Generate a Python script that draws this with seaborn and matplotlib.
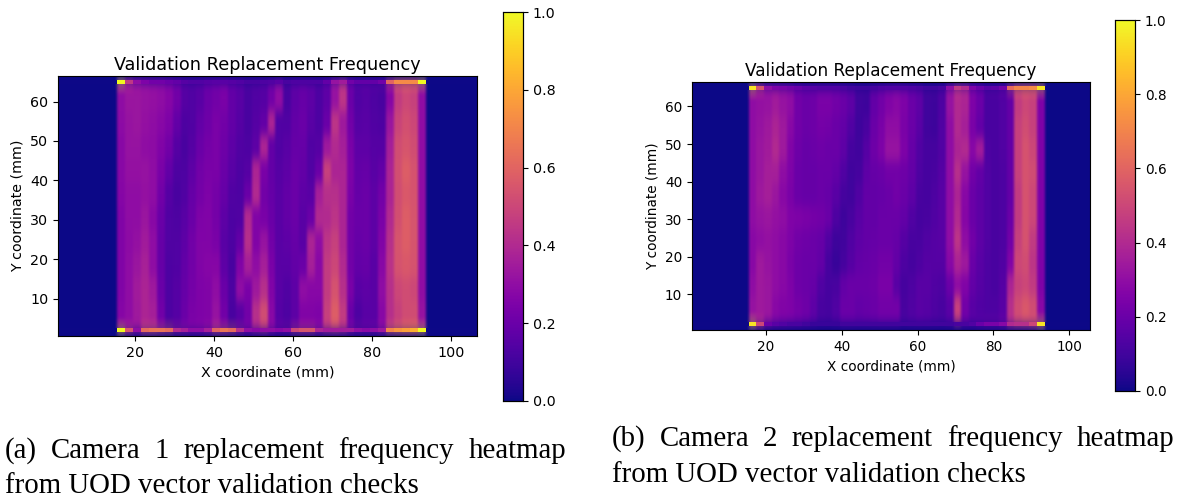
import numpy as np
import matplotlib
matplotlib.use("Agg")
import matplotlib.pyplot as plt
import seaborn as sns

# values, 39 columns of 2 mm across the plate (x = 15.5 .. 93.5)
# rows go from the top of the plate down
CAM1_TOP_EDGE = [1.0, .45, .30, .25, .22, .22, .20, .18, .15, .14, .14, .15, .16, .16, .15, .14, .12, .12, .13, .14, .16, .12, .13, .13, .13, .13, .18, .32, .35, .22, .18, .18, .18, .22, .60, .72, .72, .72, 1.0]
CAM1_BODY = [
    [.30, .33, .33, .32, .31, .30, .27, .22, .15, .14, .16, .20, .22, .24, .18, .16, .12, .14, .15, .22, .30, .12, .17, .19, .17, .13, .17, .32, .44, .20, .14, .15, .13, .12, .27, .46, .50, .48, .30],
    [.29, .32, .33, .31, .30, .28, .25, .18, .13, .14, .18, .21, .24, .22, .18, .15, .12, .15, .18, .38, .14, .14, .18, .20, .16, .13, .20, .44, .34, .22, .15, .16, .14, .13, .33, .49, .53, .50, .30],
    [.28, .32, .32, .30, .29, .26, .22, .15, .12, .15, .20, .23, .24, .21, .17, .14, .13, .17, .38, .18, .14, .16, .19, .19, .14, .15, .34, .40, .36, .24, .17, .17, .15, .15, .36, .52, .55, .52, .30],
    [.28, .31, .31, .32, .30, .24, .18, .13, .13, .17, .22, .24, .24, .20, .16, .13, .15, .38, .24, .18, .15, .17, .20, .18, .14, .20, .48, .38, .38, .25, .18, .19, .16, .18, .38, .53, .58, .54, .30],
    [.27, .30, .30, .31, .30, .22, .15, .12, .14, .19, .23, .25, .23, .19, .14, .13, .20, .40, .22, .19, .16, .18, .20, .17, .16, .36, .42, .42, .38, .24, .19, .20, .17, .22, .38, .52, .56, .54, .30],
    [.26, .30, .30, .33, .28, .20, .14, .13, .16, .20, .25, .26, .23, .17, .13, .14, .40, .26, .24, .20, .16, .18, .20, .16, .20, .40, .40, .44, .38, .22, .20, .20, .17, .24, .40, .53, .58, .55, .30],
    [.26, .29, .31, .35, .30, .19, .14, .14, .17, .22, .26, .26, .24, .16, .13, .18, .42, .26, .32, .22, .16, .17, .19, .16, .38, .30, .44, .48, .38, .22, .19, .20, .17, .26, .42, .55, .58, .55, .30],
    [.26, .30, .33, .37, .30, .19, .13, .14, .18, .22, .26, .27, .27, .17, .12, .26, .36, .30, .36, .24, .16, .16, .18, .20, .36, .28, .46, .50, .40, .22, .18, .19, .16, .28, .43, .54, .56, .54, .30],
    [.26, .30, .35, .38, .34, .20, .13, .15, .19, .23, .25, .26, .30, .20, .13, .30, .24, .34, .42, .26, .16, .14, .17, .30, .28, .28, .46, .54, .42, .24, .16, .17, .16, .30, .42, .50, .52, .50, .30],
    [.27, .30, .34, .38, .36, .22, .13, .15, .20, .24, .25, .26, .32, .22, .12, .16, .22, .42, .52, .28, .15, .13, .17, .26, .26, .25, .48, .58, .46, .20, .13, .16, .16, .28, .42, .48, .52, .52, .32],
]
CAM1_BOTTOM_EDGE = [1.0, .55, .30, .62, .65, .65, .62, .40, .36, .30, .30, .36, .60, .66, .62, .42, .30, .28, .30, .30, .28, .30, .50, .55, .55, .38, .35, .35, .35, .35, .30, .28, .30, .34, .70, .75, .78, .82, 1.0]

CAM2_TOP_EDGE = [.95, .55, .30, .25, .24, .22, .20, .17, .15, .14, .14, .14, .12, .10, .09, .09, .11, .13, .14, .14, .14, .13, .12, .10, .10, .12, .30, .45, .40, .25, .20, .16, .17, .22, .62, .70, .70, .72, .95]
CAM2_BODY = [
    [.30, .31, .32, .35, .32, .30, .22, .20, .21, .24, .24, .22, .20, .17, .10, .09, .18, .22, .26, .28, .25, .20, .17, .10, .09, .13, .32, .40, .38, .25, .20, .12, .12, .14, .18, .46, .50, .48, .25],
    [.30, .32, .34, .38, .34, .28, .22, .20, .21, .23, .22, .20, .18, .14, .09, .12, .20, .24, .30, .30, .24, .20, .16, .10, .09, .14, .30, .40, .36, .24, .18, .12, .12, .14, .18, .48, .52, .48, .25],
    [.30, .33, .35, .40, .34, .26, .21, .19, .20, .21, .20, .20, .17, .11, .10, .15, .21, .25, .32, .32, .25, .19, .14, .11, .11, .14, .30, .38, .40, .28, .35, .13, .12, .14, .18, .48, .54, .50, .25],
    [.30, .33, .36, .36, .30, .25, .20, .19, .19, .20, .20, .18, .14, .10, .11, .17, .19, .20, .22, .22, .21, .18, .13, .11, .12, .15, .30, .42, .32, .22, .18, .14, .12, .13, .18, .48, .54, .52, .25],
    [.30, .34, .36, .33, .28, .24, .20, .19, .19, .20, .19, .16, .11, .10, .14, .18, .18, .19, .20, .22, .20, .17, .12, .11, .13, .16, .30, .38, .28, .20, .17, .14, .12, .13, .18, .46, .54, .50, .25],
    [.30, .32, .33, .31, .30, .26, .25, .24, .23, .22, .20, .13, .09, .12, .16, .18, .18, .20, .20, .20, .18, .14, .11, .12, .14, .16, .30, .40, .27, .20, .17, .14, .12, .13, .20, .46, .54, .50, .25],
    [.28, .30, .31, .30, .28, .25, .22, .21, .20, .19, .14, .09, .10, .14, .17, .18, .19, .20, .20, .19, .15, .12, .12, .14, .15, .16, .30, .44, .30, .22, .17, .14, .12, .13, .22, .48, .54, .46, .25],
    [.28, .34, .32, .30, .28, .24, .21, .20, .20, .18, .11, .08, .11, .15, .18, .19, .20, .22, .22, .18, .13, .11, .13, .15, .15, .15, .28, .38, .34, .20, .16, .13, .12, .14, .26, .50, .52, .44, .25],
    [.30, .34, .33, .30, .28, .25, .21, .20, .19, .14, .11, .12, .18, .20, .20, .20, .21, .24, .24, .16, .11, .13, .16, .16, .14, .13, .20, .30, .26, .18, .15, .13, .12, .15, .38, .48, .50, .46, .25],
    [.32, .34, .33, .28, .26, .25, .23, .21, .17, .12, .11, .14, .20, .20, .18, .19, .20, .22, .22, .22, .12, .14, .16, .15, .13, .12, .16, .48, .22, .16, .14, .13, .13, .16, .42, .52, .56, .52, .28],
]
CAM2_BOTTOM_EDGE = [.95, .50, .20, .16, .14, .12, .12, .10, .08, .08, .08, .08, .10, .10, .10, .10, .10, .10, .10, .10, .10, .10, .10, .10, .10, .10, .10, .12, .12, .14, .20, .24, .24, .28, .40, .42, .42, .50, .95]

X_TICKS = [20, 40, 60, 80, 100]
Y_TICKS = [10, 20, 30, 40, 50, 60]
CBAR_TICKS = [0.0, 0.2, 0.4, 0.6, 0.8, 1.0]
ROW_MM = [1, 1, 7, 6, 6, 6, 6, 6, 6, 6, 6, 7, 1, 1]

TITLE = "Validation Replacement Frequency"
CAPTION_A = ["(a) Camera 1 replacement frequency heatmap", "from UOD vector validation checks"]
CAPTION_B = ["(b) Camera 2 replacement frequency heatmap", "from UOD vector validation checks"]

CAPTION_SIZE = 20.8

W, H = 1183, 500
sns.set_style("white")
plt.rcParams.update({
    "font.family": "DejaVu Sans",
    "text.color": "black",
    "axes.labelcolor": "black",
    "xtick.color": "black",
    "ytick.color": "black",
})
fig = plt.figure(figsize=(W / 100, H / 100), dpi=100)


def px_axes(x0, y0, x1, y1):
    # pixel box measured from the top left of the picture
    return fig.add_axes([x0 / W, 1 - y1 / H, (x1 - x0) / W, (y1 - y0) / H])


def build_grid(top, body, bottom, right_mm):
    rows = [[0.0] * 39, top] + body + [bottom, [0.0] * 39]
    grid = np.repeat(np.array(rows), ROW_MM, axis=0)
    grid = np.repeat(grid, 4, axis=1)  # half mm cells
    return np.pad(grid, ((0, 0), (30, right_mm * 2)))


def soften(img, dpi):
    # the source image was drawn with imshow smoothing, do the same at draw time
    out = img.copy()
    for axis, size in ((0, 13), (1, 3)):
        k = np.convolve(np.ones(size), np.ones(size))
        k = k / k.sum()
        pad = [(0, 0)] * 3
        pad[axis] = (size - 1, size - 1)
        padded = np.pad(out, pad, mode="edge")
        out = np.apply_along_axis(lambda v: np.convolve(v, k, mode="valid"), axis, padded)
    return out, 0, 0


def draw_panel(grid, box, cbar_box, title_size, label_size, tick_size):
    ax = px_axes(*box)
    cax = px_axes(*cbar_box)
    sns.heatmap(grid, ax=ax, cbar_ax=cax, cmap="plasma", vmin=0, vmax=1,
                xticklabels=False, yticklabels=False)
    ax.collections[0].set_agg_filter(soften)
    # thin hot edges stay sharp, drawn over the softened body
    mask = np.ones_like(grid, dtype=bool)
    mask[1, :] = False
    mask[-2, :] = False
    sns.heatmap(grid, ax=ax, mask=mask, cbar=False, cmap="plasma", vmin=0, vmax=1,
                xticklabels=False, yticklabels=False)
    ax.set_xticks([(v - 0.5) * 2 for v in X_TICKS], labels=X_TICKS, fontsize=tick_size)
    ax.set_yticks([66.5 - v for v in Y_TICKS], labels=Y_TICKS, fontsize=tick_size, rotation=0)
    ax.tick_params(length=3.5, width=0.8, left=True, bottom=True, pad=3.5)
    ax.set_title(TITLE, fontsize=title_size, pad=4)
    ax.set_xlabel("X coordinate (mm)", fontsize=label_size, labelpad=4)
    ax.set_ylabel("Y coordinate (mm)", fontsize=label_size, labelpad=4)
    for s in ax.spines.values():
        s.set_visible(True)
        s.set_color("black")
        s.set_linewidth(0.8)
    cax.set_yticks(CBAR_TICKS, labels=[f"{t:.1f}" for t in CBAR_TICKS], fontsize=tick_size)
    cax.tick_params(length=3.5, width=0.8, right=True, pad=3.5)
    for s in cax.spines.values():
        s.set_visible(True)
        s.set_color("black")
        s.set_linewidth(0.8)


def justified(words, x0, x1, y):
    # first caption line is justified in the source, so spread the words out
    r = fig.canvas.get_renderer()
    items = [fig.text(0, 1 - y / H, w, family="Liberation Serif", fontsize=CAPTION_SIZE, va="baseline") for w in words]
    widths = [t.get_window_extent(r).width for t in items]
    gap = (x1 - x0 - sum(widths)) / (len(words) - 1)
    x = x0
    for t, w in zip(items, widths):
        t.set_x(x / W)
        x += w + gap


cam1 = build_grid(CAM1_TOP_EDGE, CAM1_BODY, CAM1_BOTTOM_EDGE, 13)
cam2 = build_grid(CAM2_TOP_EDGE, CAM2_BODY, CAM2_BOTTOM_EDGE, 12)
draw_panel(cam1, (58, 76, 477, 336), (503, 12, 523, 401), 12.7, 10.3, 10.3)
draw_panel(cam2, (692, 82, 1090, 330), (1115, 20, 1135, 391), 12.2, 9.8, 9.8)

justified(CAPTION_A[0].split(), 5, 566, 458)
fig.text(5 / W, 1 - 493 / H, CAPTION_A[1], family="Liberation Serif", fontsize=CAPTION_SIZE, va="baseline")
justified(CAPTION_B[0].split(), 612, 1174, 446)
fig.text(612 / W, 1 - 482 / H, CAPTION_B[1], family="Liberation Serif", fontsize=CAPTION_SIZE, va="baseline")

fig.savefig("out.png", dpi=100)
